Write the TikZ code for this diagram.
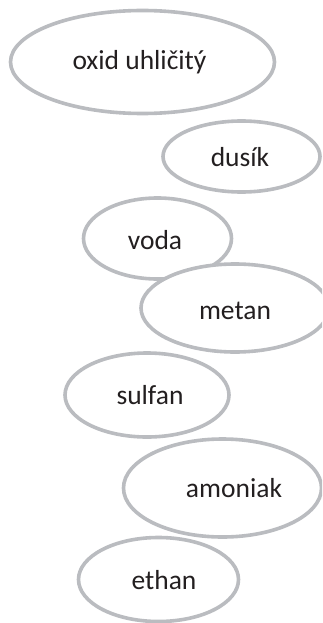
\documentclass[tikz,border=0pt]{standalone}
\usepackage{fontspec}
\setmainfont{Carlito}
\usetikzlibrary{shapes.geometric}
\definecolor{ringgray}{RGB}{186,188,192}
\definecolor{inkdark}{RGB}{35,31,32}
\begin{document}
\begin{tikzpicture}[x=1pt,y=-1pt,
  bubble/.style={ellipse, draw=ringgray, line width=3.6pt, inner sep=0pt, fill=white},
  lbl/.style={text=inkdark, font=\fontsize{27.5}{32}\selectfont, inner sep=0pt}]
\useasboundingbox (0,0) rectangle (322,623);
\clip (0,0) rectangle (322,623);
\node[bubble, minimum width=264pt, minimum height=103pt] (e1) at (142.5,62) {};
\node[lbl] (t1) at (139.5,62) {oxid uhličitý};
\node[bubble, minimum width=157pt, minimum height=71pt] (e2) at (241.5,156.5) {};
\node[lbl] (t2) at (240,157) {dusík};
\node[bubble, minimum width=148pt, minimum height=81pt] (e3) at (157.5,238.5) {};
\node[lbl] (t3) at (155,240) {voda};
\node[bubble, minimum width=188pt, minimum height=88pt] (e4) at (235,308) {};
\node[lbl] (t4) at (235,311) {metan};
\node[bubble, minimum width=164pt, minimum height=84pt] (e5) at (147,395) {};
\node[lbl] (t5) at (150,395) {sulfan};
\node[bubble, minimum width=198pt, minimum height=98pt] (e6) at (222.5,488) {};
\node[lbl] (t6) at (234,488) {amoniak};
\node[bubble, minimum width=160pt, minimum height=84pt] (e7) at (158.5,579.5) {};
\node[lbl] (t7) at (164,580) {ethan};
\end{tikzpicture}
\end{document}
